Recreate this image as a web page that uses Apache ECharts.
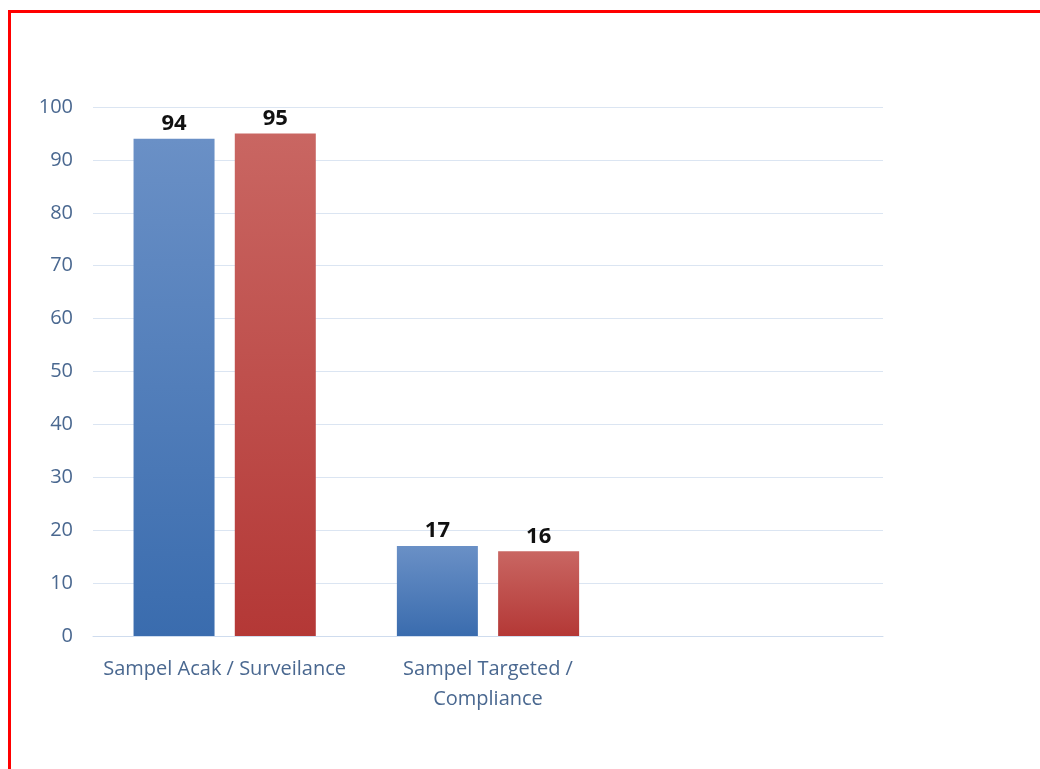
<!DOCTYPE html>
<html>
<head>
<meta charset="utf-8">
<script src="https://cdn.jsdelivr.net/npm/echarts@6/dist/echarts.min.js"></script>
<style>html,body{margin:0;padding:0;background:#fff;}#c{width:1040px;height:769px;}</style>
</head>
<body>
<div id="c"></div>
<script>
const categories = ['Sampel Acak / Surveilance', 'Sampel Targeted /\nCompliance', ''];
const seriesA = [94, 17, null];
const seriesB = [95, 16, null];
const yTicks = {min: 0, max: 100, interval: 10};

const chart = echarts.init(document.getElementById('c'));
const grad = (top, bottom) => new echarts.graphic.LinearGradient(0, 0, 0, 1, [
  {offset: 0, color: top}, {offset: 1, color: bottom}
]);
const labelStyle = {show: true, position: 'top', distance: 4, color: '#111', fontSize: 22, fontWeight: 'bold', fontFamily: 'Open Sans'};
chart.setOption({
  animation: false,
  backgroundColor: '#fff',
  graphic: [{
    type: 'rect', shape: {x: 9.5, y: 11.5, width: 1200, height: 900},
    style: {fill: 'none', stroke: '#ff0000', lineWidth: 3}, silent: true
  }],
  grid: {left: 93, right: 157, top: 107, bottom: 133},
  xAxis: {
    type: 'category', data: categories,
    axisLine: {lineStyle: {color: '#cfdcee', width: 1}},
    axisTick: {show: false},
    axisLabel: {color: '#4a6890', fontSize: 20, fontFamily: 'Open Sans', margin: 18, lineHeight: 30, interval: 0}
  },
  yAxis: {
    type: 'value', min: yTicks.min, max: yTicks.max, interval: yTicks.interval,
    axisLine: {show: false}, axisTick: {show: false},
    splitLine: {lineStyle: {color: '#dbe5f2', width: 1}},
    axisLabel: {color: '#4a6890', fontSize: 20, fontFamily: 'Open Sans', margin: 20}
  },
  series: [
    {type: 'bar', data: seriesA, barWidth: 81, barGap: '25%',
     itemStyle: {color: grad('#6a90c6', '#3a6cae')}, label: labelStyle},
    {type: 'bar', data: seriesB, barWidth: 81,
     itemStyle: {color: grad('#c96662', '#b43836')}, label: labelStyle}
  ]
});
</script>
</body>
</html>
